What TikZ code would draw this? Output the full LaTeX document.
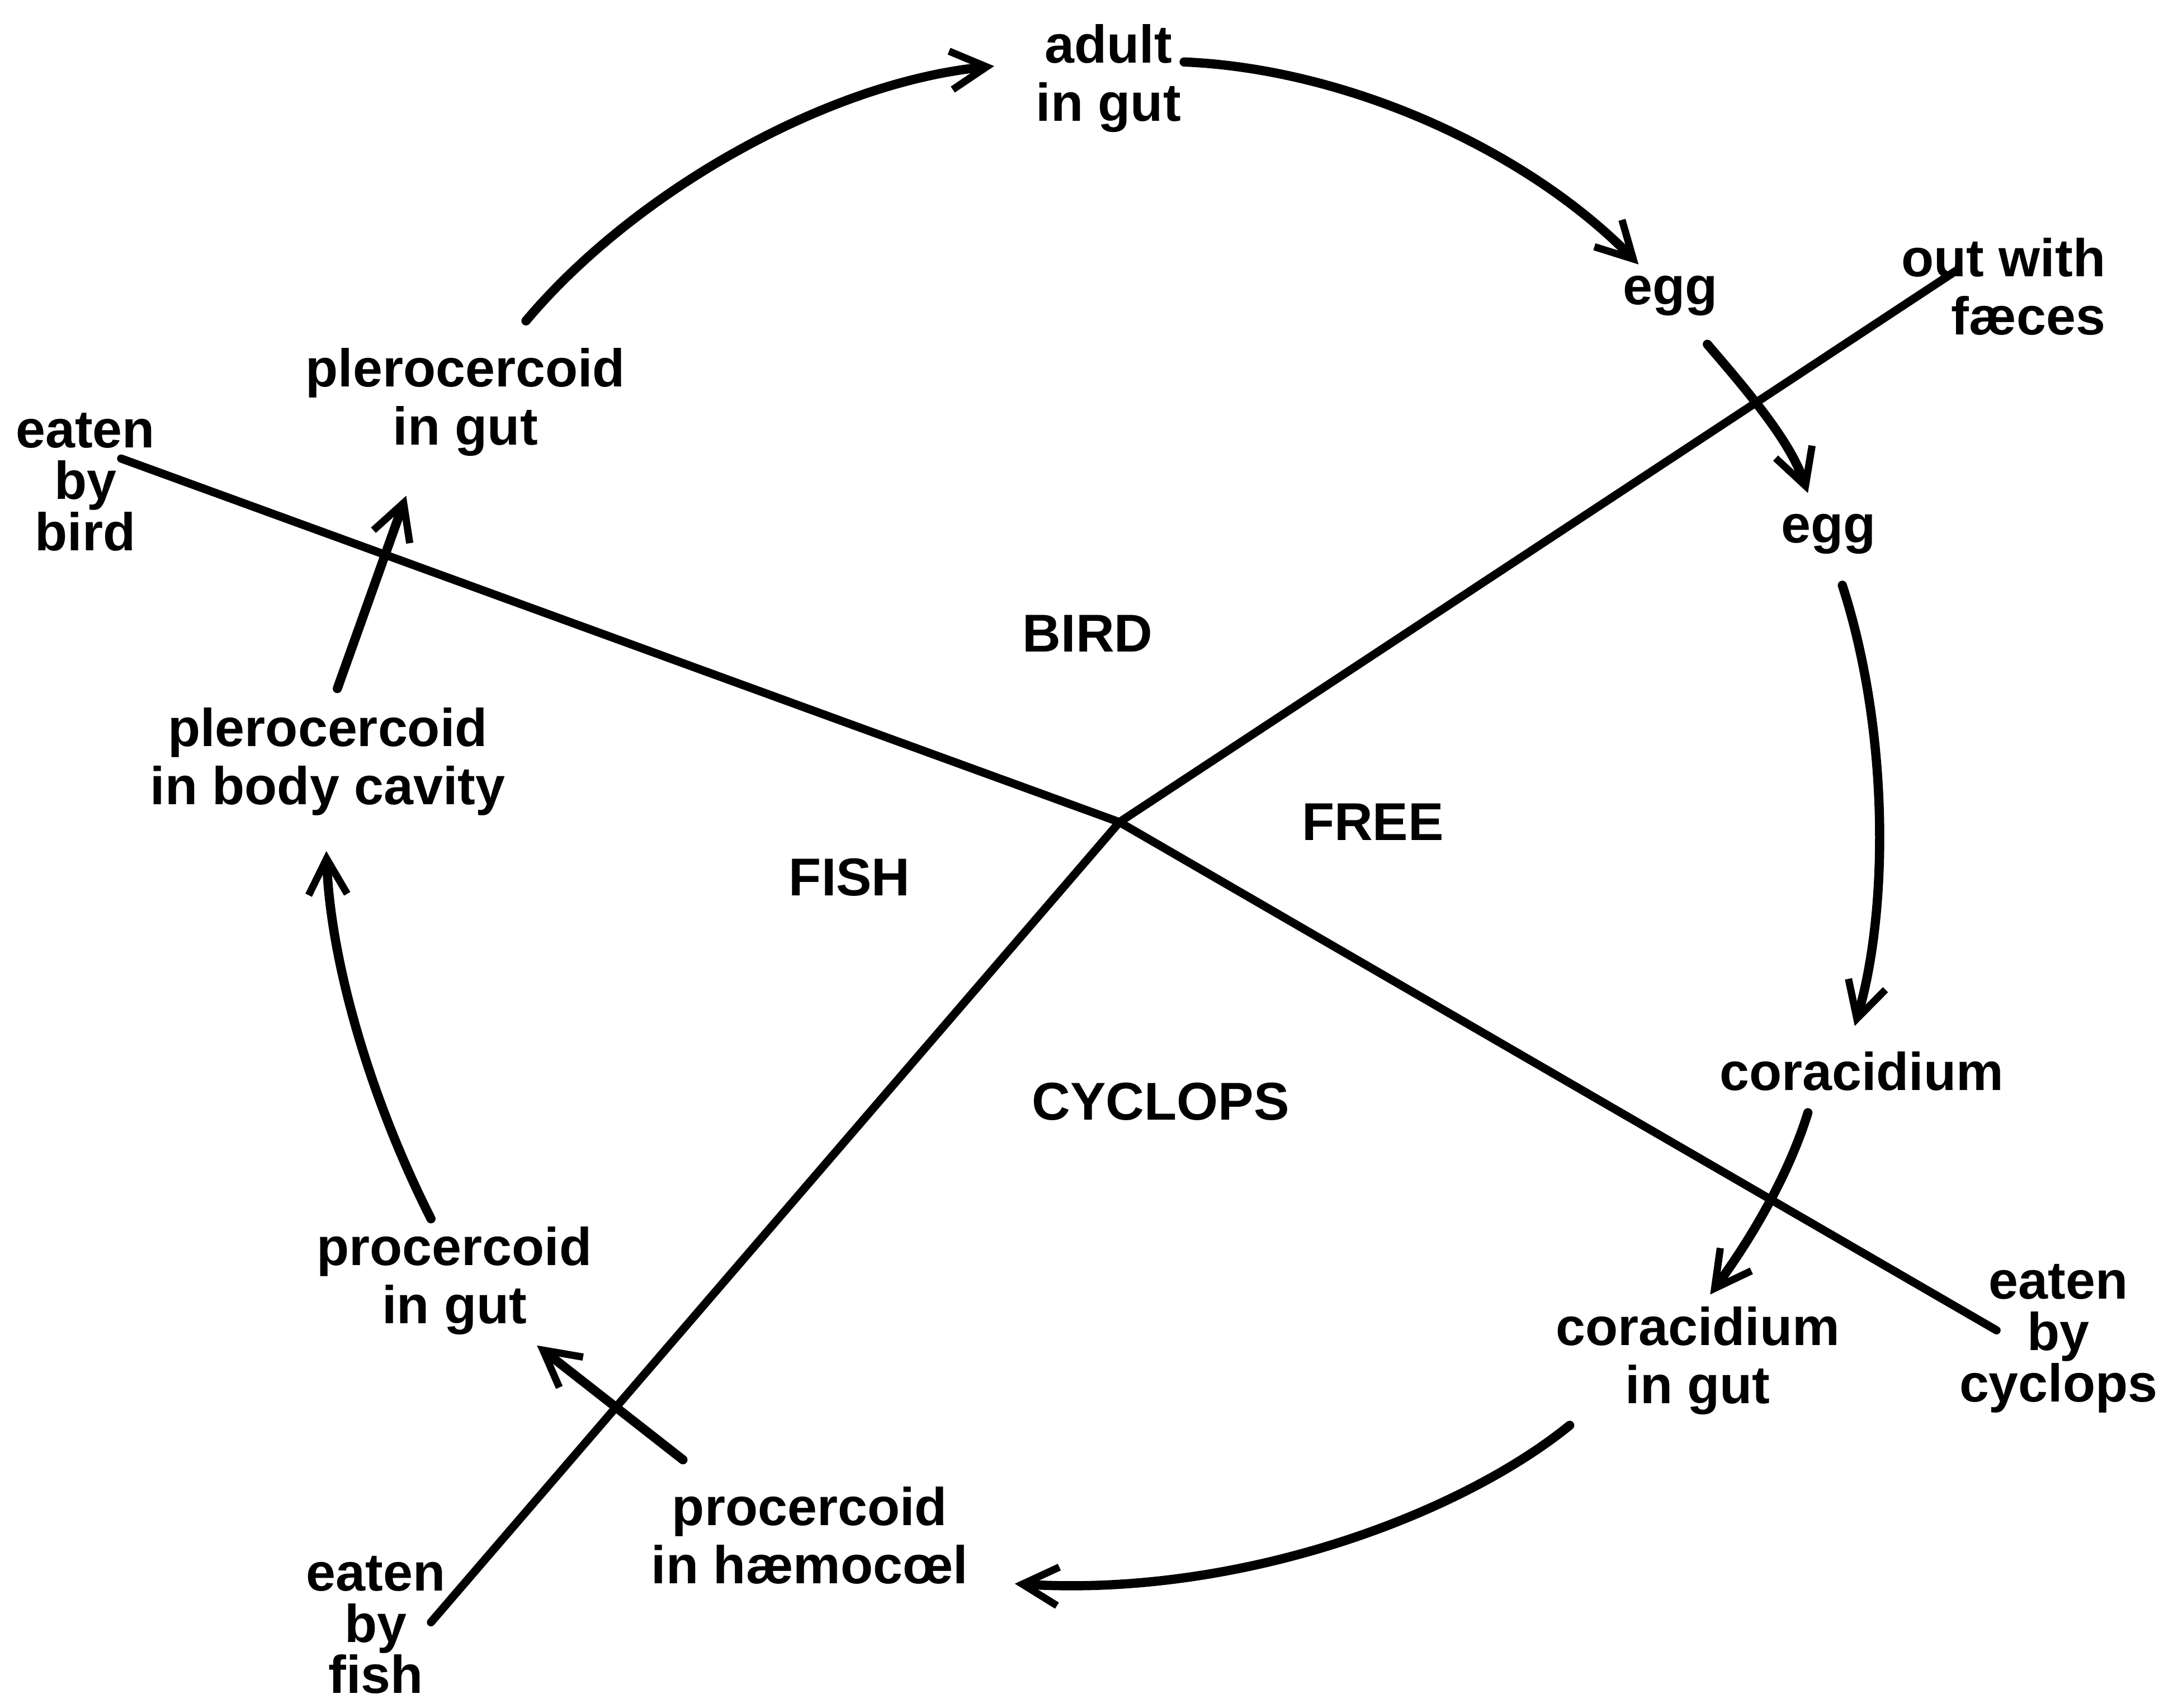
\documentclass[tikz,border=0pt]{standalone}
\usepackage{fontspec}
\setmainfont{Liberation Sans}
\usetikzlibrary{arrows.meta,calc}
\begin{document}
\begin{tikzpicture}[x=0.1mm,y=-0.1mm,
  lbl/.style={font=\fontsize{11}{12}\selectfont\bfseries, align=center, inner sep=0pt},
  tight/.style={font=\fontsize{11}{10.6}\selectfont\bfseries},
  cyc/.style={line width=1.9pt, line cap=round, -{Straight Barb[length=2.6mm,width=2.8mm,line width=1.5pt]}},
  divider/.style={line width=1.7pt, line cap=round}]
\useasboundingbox (0,0) rectangle (1568,1240);
% labels
\node[lbl] (adult) at (805,57) {adult\\in gut};
\node[lbl] (egga) at (1213,215) {egg};
\node[lbl,align=right] (faeces) at (1455,208) {out with\\fæces};
\node[lbl] (eggb) at (1328,388) {egg};
\node[lbl] (cora) at (1352,778) {coracidium};
\node[lbl] (coragut) at (1233,988) {coracidium\\in gut};
\node[lbl,tight] (ecyc) at (1495,972) {eaten\\by\\cyclops};
\node[lbl] (prohae) at (588,1115) {procercoid\\in hæmocœl};
\node[lbl,tight] (efish) at (273,1180) {eaten\\by\\fish};
\node[lbl] (progut) at (330,930) {procercoid\\in gut};
\node[lbl] (plebody) at (238,553) {plerocercoid\\in body cavity};
\node[lbl] (plegut) at (338,292) {plerocercoid\\in gut};
\node[lbl,tight] (ebird) at (62,350) {eaten\\by\\bird};
% region labels
\node[lbl] (bird) at (790,460) {BIRD};
\node[lbl] (free) at (997,597) {FREE};
\node[lbl] (fish) at (617,637) {FISH};
\node[lbl] (cyclops) at (843,800) {CYCLOPS};
% dividing lines
\coordinate (hub) at (813,597);
\draw[divider] ($(ebird)+(26,-17)$) -- (hub) -- ($(ecyc)+(-45,-6)$);
\draw[divider] ($(faeces)+(-35,-11)$) -- (hub) -- ($(efish)+(40,-2)$);
% life cycle arrows
\draw[cyc] ($(plegut)+(44,-59)$) .. controls ($(plegut)+(122,-152)$) and ($(adult)+(-205,3)$) .. ($(adult)+(-83,-9)$);
\draw[cyc] ($(adult)+(55,-12)$) .. controls ($(adult)+(175,-7)$) and ($(egga)+(-103,-105)$) .. ($(egga)+(-23,-23)$);
\draw[cyc] ($(egga)+(27,35)$) .. controls ($(egga)+(57,70)$) and ($(eggb)+(-28,-68)$) .. ($(eggb)+(-15,-30)$);
\draw[cyc] ($(eggb)+(10,37)$) .. controls ($(eggb)+(44,142)$) and ($(cora)+(20,-118)$) .. ($(cora)+(-5,-33)$);
\draw[cyc] ($(cora)+(-39,30)$) .. controls ($(cora)+(-52,72)$) and ($(coragut)+(42,-93)$) .. ($(coragut)+(9,-48)$);
\draw[cyc] ($(coragut)+(-93,47)$) .. controls ($(coragut)+(-173,112)$) and ($(prohae)+(312,45)$) .. ($(prohae)+(149,35)$);
\draw[cyc] ($(prohae)+(-92,-55)$) -- ($(progut)+(60,47)$);
\draw[cyc] ($(progut)+(-17,-45)$) .. controls ($(progut)+(-60,-130)$) and ($(plebody)+(2,147)$) .. ($(plebody)+(-1,65)$);
\draw[cyc] ($(plebody)+(7,-53)$) -- ($(plegut)+(-43,68)$);
\end{tikzpicture}
\end{document}
